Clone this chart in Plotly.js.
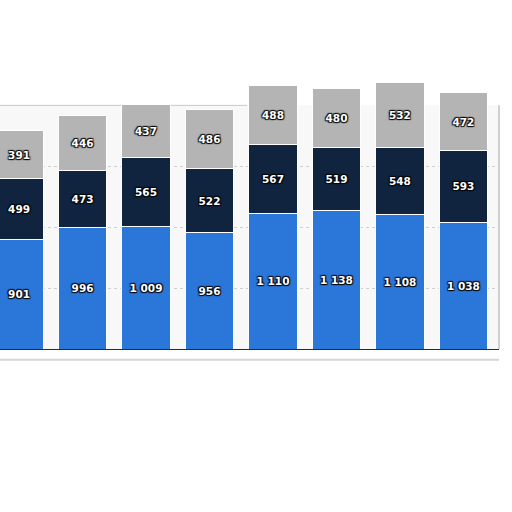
<!DOCTYPE html>
<html>
<head>
<meta charset="utf-8">
<script src="https://cdn.plot.ly/plotly-3.0.1.min.js"></script>
<style>
  html, body { margin: 0; padding: 0; background: #fff; }
  #chart { width: 512px; height: 512px; }
</style>
</head>
<body>
<div id="chart"></div>
<script>
// values, left to right
var positions = [0, 1, 2, 3, 4, 5, 6, 7];
var blueValues = [901, 996, 1009, 956, 1110, 1138, 1108, 1038];
var navyValues = [499, 473, 565, 522, 567, 519, 548, 593];
var greyValues = [391, 446, 437, 486, 488, 480, 532, 472];

var outline = 'rgba(0,0,0,0.9) 1px 1px 1px, rgba(0,0,0,0.9) -1px -1px 1px, ' +
              'rgba(0,0,0,0.9) 1px -1px 1px, rgba(0,0,0,0.9) -1px 1px 1px';

function segment(values, color) {
  return {
    x: positions,
    y: values,
    type: 'bar',
    width: 0.76,
    marker: { color: color, line: { color: '#ffffff', width: 1 } },
    texttemplate: '%{y:,}',
    textposition: 'inside',
    insidetextanchor: 'middle',
    textangle: 0,
    constraintext: 'none',
    textfont: {
      family: 'DejaVu Sans',
      size: 10.5,
      weight: 'bold',
      color: '#ffffff',
      shadow: outline
    },
    hoverinfo: 'skip'
  };
}

var data = [
  segment(blueValues, '#2b76d9'),
  segment(navyValues, '#10243f'),
  segment(greyValues, '#b4b4b4')
];

var layout = {
  width: 512,
  height: 512,
  barmode: 'stack',
  showlegend: false,
  separators: '. ',
  paper_bgcolor: '#ffffff',
  plot_bgcolor: '#ffffff',
  margin: { l: 0, r: 13, t: 81, b: 163 },
  xaxis: {
    range: [-0.3, 7.56],
    showticklabels: false,
    showgrid: false,
    zeroline: false,
    showline: true,
    linecolor: '#2a2a2a',
    linewidth: 1,
    ticks: ''
  },
  yaxis: {
    range: [0, 2200],
    tickvals: [500, 1000, 1500],
    showticklabels: false,
    gridcolor: '#cfcfcf',
    griddash: 'dot',
    gridwidth: 1,
    zeroline: false,
    showline: false
  },
  shapes: [
    // light card behind the bars
    { type: 'rect', xref: 'paper', yref: 'y', x0: 0, x1: 1, y0: 0, y1: 2000,
      fillcolor: '#f8f8f8', line: { width: 0 }, layer: 'below' },
    // top edge of the card on the left
    { type: 'line', xref: 'paper', yref: 'y', x0: 0, x1: 0.495, y0: 2000, y1: 2000,
      line: { color: '#c8c8c8', width: 1 }, layer: 'below' },
    // right edge
    { type: 'line', xref: 'paper', yref: 'y', x0: 1, x1: 1, y0: 0, y1: 2000,
      line: { color: '#d0d0d0', width: 2 } },
    // shadow under the card
    { type: 'line', xref: 'paper', yref: 'paper', x0: 0, x1: 1, y0: -0.04, y1: -0.04,
      line: { color: '#d6d6d6', width: 2 } }
  ]
};

Plotly.newPlot('chart', data, layout, { staticPlot: true });
</script>
</body>
</html>
